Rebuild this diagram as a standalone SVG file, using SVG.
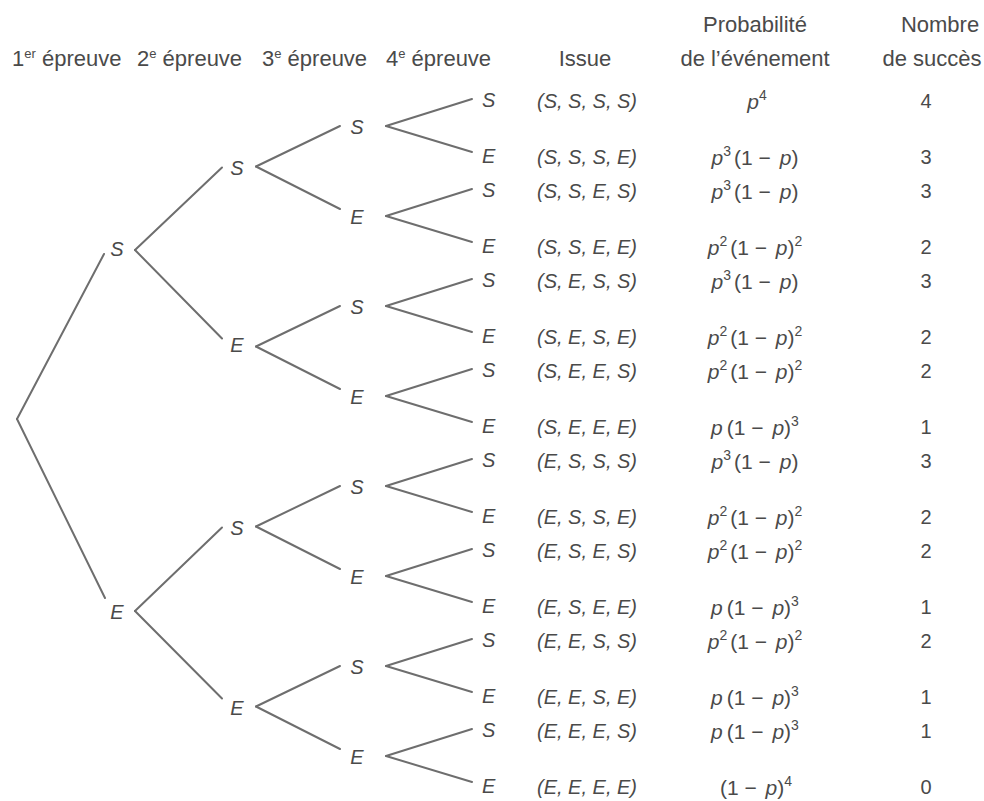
<svg xmlns="http://www.w3.org/2000/svg" width="984" height="801" viewBox="0 0 984 801">
  <style>
    text { font-family: "Liberation Sans", Arial, sans-serif; fill: #4a4a4a; }
    .hd { font-size: 22px; }
    .hs { font-size: 13px; }
    .nd { font-size: 20px; font-style: italic; text-anchor: middle; }
    .lf { font-size: 20px; font-style: italic; }
    .is { font-size: 20px; font-style: italic; }
    .pr { font-size: 21px; text-anchor: middle; }
    .v { font-style: italic; }
    .sp { font-size: 14px; }
    .ct { font-size: 20px; text-anchor: middle; }
    .br line { stroke: #6e6e6e; stroke-width: 2; stroke-linecap: round; }
  </style>
  <rect width="984" height="801" fill="#ffffff"/>

  <!-- column headings -->
  <g id="headings" class="hd">
    <text class="hd" x="12" y="66">1<tspan class="hs" dy="-8">er</tspan><tspan dy="8"> épreuve</tspan></text>
    <text class="hd" x="137" y="66">2<tspan class="hs" dy="-8">e</tspan><tspan dy="8"> épreuve</tspan></text>
    <text class="hd" x="262" y="66">3<tspan class="hs" dy="-8">e</tspan><tspan dy="8"> épreuve</tspan></text>
    <text class="hd" x="386" y="66">4<tspan class="hs" dy="-8">e</tspan><tspan dy="8"> épreuve</tspan></text>
    <text class="hd" x="585" y="66" text-anchor="middle">Issue</text>
    <text class="hd" x="755" y="32" text-anchor="middle">Probabilité</text>
    <text class="hd" x="755" y="66" text-anchor="middle">de l’événement</text>
    <text class="hd" x="940" y="32" text-anchor="middle">Nombre</text>
    <text class="hd" x="932" y="66" text-anchor="middle">de succès</text>
  </g>

  <!-- tree branches -->
  <g id="connectors" class="br">
    <!-- root -->
    <line x1="17" y1="419" x2="104" y2="254"/>
    <line x1="17" y1="419" x2="105" y2="598"/>
    <!-- 1st trial -> 2nd trial -->
    <line x1="135" y1="250" x2="222" y2="167.5"/>
    <line x1="135" y1="250" x2="222" y2="338.5"/>
    <line x1="135" y1="611" x2="222" y2="527.5"/>
    <line x1="135" y1="611" x2="222" y2="698.5"/>
    <!-- 2nd trial -> 3rd trial -->
    <line x1="256" y1="166.5" x2="340" y2="126"/>
    <line x1="256" y1="166.5" x2="340" y2="209"/>
    <line x1="256" y1="346.5" x2="340" y2="306"/>
    <line x1="256" y1="346.5" x2="340" y2="389"/>
    <line x1="256" y1="526.5" x2="340" y2="486"/>
    <line x1="256" y1="526.5" x2="340" y2="569"/>
    <line x1="256" y1="706.5" x2="340" y2="666"/>
    <line x1="256" y1="706.5" x2="340" y2="749"/>
    <!-- 3rd trial -> 4th trial -->
    <line x1="386" y1="126" x2="472" y2="99"/>
    <line x1="386" y1="126" x2="472" y2="152"/>
    <line x1="386" y1="216" x2="472" y2="189"/>
    <line x1="386" y1="216" x2="472" y2="242"/>
    <line x1="386" y1="306" x2="472" y2="279"/>
    <line x1="386" y1="306" x2="472" y2="332"/>
    <line x1="386" y1="396" x2="472" y2="369"/>
    <line x1="386" y1="396" x2="472" y2="422"/>
    <line x1="386" y1="486" x2="472" y2="459"/>
    <line x1="386" y1="486" x2="472" y2="512"/>
    <line x1="386" y1="576" x2="472" y2="549"/>
    <line x1="386" y1="576" x2="472" y2="602"/>
    <line x1="386" y1="666" x2="472" y2="639"/>
    <line x1="386" y1="666" x2="472" y2="692"/>
    <line x1="386" y1="756" x2="472" y2="729"/>
    <line x1="386" y1="756" x2="472" y2="782"/>
  </g>

  <!-- 1st trial -->
  <g id="node-S"><text class="nd" x="117" y="256">S</text></g>
  <g id="node-E"><text class="nd" x="117" y="619">E</text></g>

  <!-- 2nd trial -->
  <g id="node-SS"><text class="nd" x="237" y="175">S</text></g>
  <g id="node-SE"><text class="nd" x="237" y="352">E</text></g>
  <g id="node-ES"><text class="nd" x="237" y="535">S</text></g>
  <g id="node-EE"><text class="nd" x="237" y="715">E</text></g>

  <!-- 3rd trial -->
  <g id="node-SSS"><text class="nd" x="357" y="134">S</text></g>
  <g id="node-SSE"><text class="nd" x="357" y="224">E</text></g>
  <g id="node-SES"><text class="nd" x="357" y="314">S</text></g>
  <g id="node-SEE"><text class="nd" x="357" y="404">E</text></g>
  <g id="node-ESS"><text class="nd" x="357" y="494">S</text></g>
  <g id="node-ESE"><text class="nd" x="357" y="584">E</text></g>
  <g id="node-EES"><text class="nd" x="357" y="674">S</text></g>
  <g id="node-EEE"><text class="nd" x="357" y="764">E</text></g>

  <!-- 4th trial: leaf, outcome, probability, number of successes -->
  <g id="row-SSSS"><text class="lf" x="482" y="107">S</text><text class="is" x="537" y="108">(S, S, S, S)</text><text class="pr" x="757" y="109"><tspan class="v">p</tspan><tspan class="sp" dy="-9">4</tspan></text><text class="ct" x="926" y="108">4</text></g>
  <g id="row-SSSE"><text class="lf" x="482" y="163">E</text><text class="is" x="537" y="164">(S, S, S, E)</text><text class="pr" x="755" y="165"><tspan class="v">p</tspan><tspan class="sp" dy="-9">3</tspan><tspan dy="9" dx="3">(1 − </tspan><tspan class="v" dx="3">p</tspan>)</text><text class="ct" x="926" y="164">3</text></g>
  <g id="row-SSES"><text class="lf" x="482" y="197">S</text><text class="is" x="537" y="198">(S, S, E, S)</text><text class="pr" x="755" y="199"><tspan class="v">p</tspan><tspan class="sp" dy="-9">3</tspan><tspan dy="9" dx="3">(1 − </tspan><tspan class="v" dx="3">p</tspan>)</text><text class="ct" x="926" y="198">3</text></g>
  <g id="row-SSEE"><text class="lf" x="482" y="253">E</text><text class="is" x="537" y="254">(S, S, E, E)</text><text class="pr" x="755" y="255"><tspan class="v">p</tspan><tspan class="sp" dy="-9">2</tspan><tspan dy="9" dx="3">(1 − </tspan><tspan class="v" dx="3">p</tspan>)<tspan class="sp" dy="-9">2</tspan></text><text class="ct" x="926" y="254">2</text></g>
  <g id="row-SESS"><text class="lf" x="482" y="287">S</text><text class="is" x="537" y="288">(S, E, S, S)</text><text class="pr" x="755" y="289"><tspan class="v">p</tspan><tspan class="sp" dy="-9">3</tspan><tspan dy="9" dx="3">(1 − </tspan><tspan class="v" dx="3">p</tspan>)</text><text class="ct" x="926" y="288">3</text></g>
  <g id="row-SESE"><text class="lf" x="482" y="343">E</text><text class="is" x="537" y="344">(S, E, S, E)</text><text class="pr" x="755" y="345"><tspan class="v">p</tspan><tspan class="sp" dy="-9">2</tspan><tspan dy="9" dx="3">(1 − </tspan><tspan class="v" dx="3">p</tspan>)<tspan class="sp" dy="-9">2</tspan></text><text class="ct" x="926" y="344">2</text></g>
  <g id="row-SEES"><text class="lf" x="482" y="377">S</text><text class="is" x="537" y="378">(S, E, E, S)</text><text class="pr" x="755" y="379"><tspan class="v">p</tspan><tspan class="sp" dy="-9">2</tspan><tspan dy="9" dx="3">(1 − </tspan><tspan class="v" dx="3">p</tspan>)<tspan class="sp" dy="-9">2</tspan></text><text class="ct" x="926" y="378">2</text></g>
  <g id="row-SEEE"><text class="lf" x="482" y="433">E</text><text class="is" x="537" y="434">(S, E, E, E)</text><text class="pr" x="755" y="435"><tspan class="v">p</tspan><tspan dx="4">(1 − </tspan><tspan class="v" dx="3">p</tspan>)<tspan class="sp" dy="-9">3</tspan></text><text class="ct" x="926" y="434">1</text></g>
  <g id="row-ESSS"><text class="lf" x="482" y="467">S</text><text class="is" x="537" y="468">(E, S, S, S)</text><text class="pr" x="755" y="469"><tspan class="v">p</tspan><tspan class="sp" dy="-9">3</tspan><tspan dy="9" dx="3">(1 − </tspan><tspan class="v" dx="3">p</tspan>)</text><text class="ct" x="926" y="468">3</text></g>
  <g id="row-ESSE"><text class="lf" x="482" y="523">E</text><text class="is" x="537" y="524">(E, S, S, E)</text><text class="pr" x="755" y="525"><tspan class="v">p</tspan><tspan class="sp" dy="-9">2</tspan><tspan dy="9" dx="3">(1 − </tspan><tspan class="v" dx="3">p</tspan>)<tspan class="sp" dy="-9">2</tspan></text><text class="ct" x="926" y="524">2</text></g>
  <g id="row-ESES"><text class="lf" x="482" y="557">S</text><text class="is" x="537" y="558">(E, S, E, S)</text><text class="pr" x="755" y="559"><tspan class="v">p</tspan><tspan class="sp" dy="-9">2</tspan><tspan dy="9" dx="3">(1 − </tspan><tspan class="v" dx="3">p</tspan>)<tspan class="sp" dy="-9">2</tspan></text><text class="ct" x="926" y="558">2</text></g>
  <g id="row-ESEE"><text class="lf" x="482" y="613">E</text><text class="is" x="537" y="614">(E, S, E, E)</text><text class="pr" x="755" y="615"><tspan class="v">p</tspan><tspan dx="4">(1 − </tspan><tspan class="v" dx="3">p</tspan>)<tspan class="sp" dy="-9">3</tspan></text><text class="ct" x="926" y="614">1</text></g>
  <g id="row-EESS"><text class="lf" x="482" y="647">S</text><text class="is" x="537" y="648">(E, E, S, S)</text><text class="pr" x="755" y="649"><tspan class="v">p</tspan><tspan class="sp" dy="-9">2</tspan><tspan dy="9" dx="3">(1 − </tspan><tspan class="v" dx="3">p</tspan>)<tspan class="sp" dy="-9">2</tspan></text><text class="ct" x="926" y="648">2</text></g>
  <g id="row-EESE"><text class="lf" x="482" y="703">E</text><text class="is" x="537" y="704">(E, E, S, E)</text><text class="pr" x="755" y="705"><tspan class="v">p</tspan><tspan dx="4">(1 − </tspan><tspan class="v" dx="3">p</tspan>)<tspan class="sp" dy="-9">3</tspan></text><text class="ct" x="926" y="704">1</text></g>
  <g id="row-EEES"><text class="lf" x="482" y="737">S</text><text class="is" x="537" y="738">(E, E, E, S)</text><text class="pr" x="755" y="739"><tspan class="v">p</tspan><tspan dx="4">(1 − </tspan><tspan class="v" dx="3">p</tspan>)<tspan class="sp" dy="-9">3</tspan></text><text class="ct" x="926" y="738">1</text></g>
  <g id="row-EEEE"><text class="lf" x="482" y="793">E</text><text class="is" x="537" y="794">(E, E, E, E)</text><text class="pr" x="756" y="795">(1 − <tspan class="v" dx="3">p</tspan>)<tspan class="sp" dy="-9">4</tspan></text><text class="ct" x="926" y="794">0</text></g>
</svg>
